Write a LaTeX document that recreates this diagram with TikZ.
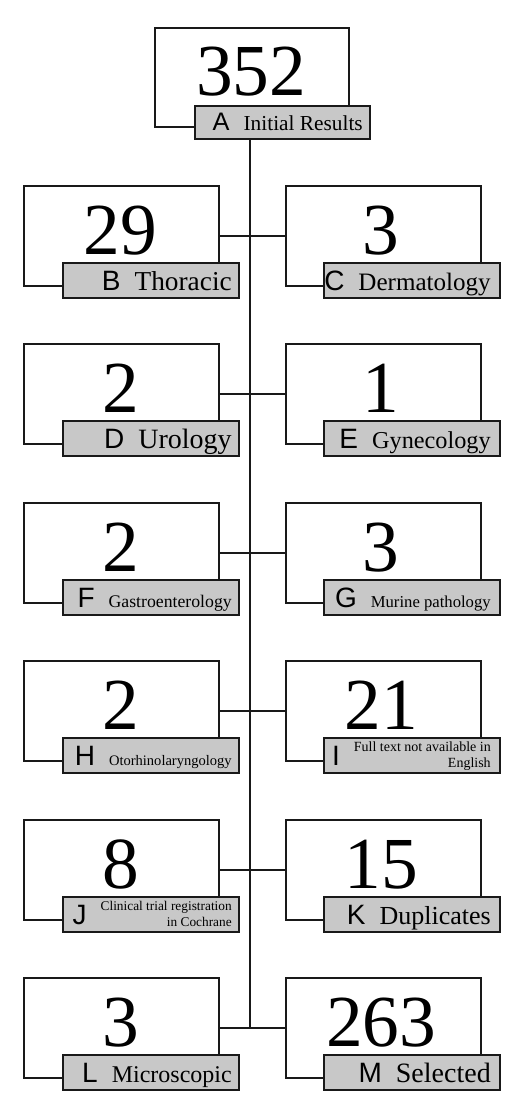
\documentclass[tikz,border=0pt]{standalone}
\usepackage{fontspec}
\setmainfont{Liberation Serif}
\newfontfamily\lsans{Liberation Sans}
\definecolor{labgray}{RGB}{200,200,200}
\definecolor{ink}{RGB}{25,25,25}
\newcommand\lett[2][21]{{\lsans\fontsize{#1}{#1}\selectfont #2}\hspace{10.5pt}}
\newcommand\txt[2]{{\fontsize{#1}{#1}\selectfont #2}}
\newcommand\twol[3]{\raisebox{-1.5pt}{\fontsize{#1}{12}\selectfont\begin{tabular}[b]{@{}r@{}}#2\\#3\end{tabular}}}
\begin{document}
\begin{tikzpicture}[x=0.75pt,y=-0.75pt,
  wbox/.style={draw=ink, line width=1.8pt, fill=white, minimum width=146.25pt, minimum height=75pt, anchor=north west, inner sep=0pt},
  lbox/.style={draw=ink, line width=1.8pt, fill=labgray, minimum width=132pt, minimum height=26.25pt, anchor=north west, inner sep=0pt},
  num/.style={anchor=base, inner sep=0pt, text depth=0pt, font=\fontsize{55}{55}\selectfont},
  ltxt/.style={anchor=base east, inner sep=0pt},
  conn/.style={draw=ink, line width=1.8pt}]
\useasboundingbox (0,0) rectangle (524,1113);
% A
\node[wbox, minimum width=145.5pt, minimum height=74.25pt] (Ab) at (154,27) {};
\node[lbox, minimum width=131.25pt, minimum height=24.75pt] (Al) at (194,105) {};
\node[num] (An) at (251,95) {352};
\node[ltxt] (At) at (363,130) {\lett[19]{A}\txt{16}{Initial Results}};
% row 0
\node[wbox] (Bb) at (23,185) {};
\node[lbox] (Bl) at (62,262) {};
\node[num] (Bn) at (120.5,254) {29};
\node[ltxt] (Bt) at (232,290) {\lett{B}\txt{20.5}{Thoracic}};
\node[wbox] (Cb) at (285,185) {};
\node[lbox] (Cl) at (323,262) {};
\node[num] (Cn) at (381,254) {3};
\node[ltxt] (Ct) at (491,290) {\lett{C}\txt{18.8}{Dermatology}};
% row 1
\node[wbox] (Db) at (23,343) {};
\node[lbox] (Dl) at (62,420) {};
\node[num] (Dn) at (120.5,412) {2};
\node[ltxt] (Dt) at (232,448) {\lett{D}\txt{21}{Urology}};
\node[wbox] (Eb) at (285,343) {};
\node[lbox] (El) at (323,420) {};
\node[num] (En) at (381,412) {1};
\node[ltxt] (Et) at (491,448) {\lett{E}\txt{18.2}{Gynecology}};
% row 2
\node[wbox] (Fb) at (23,502) {};
\node[lbox] (Fl) at (62,579) {};
\node[num] (Fn) at (120.5,571) {2};
\node[ltxt] (Ft) at (232,607) {\lett{F}\txt{13.3}{Gastroenterology}};
\node[wbox] (Gb) at (285,502) {};
\node[lbox] (Gl) at (323,579) {};
\node[num] (Gn) at (381,571) {3};
\node[ltxt] (Gt) at (491,607) {\lett{G}\txt{12.5}{Murine pathology}};
% row 3
\node[wbox] (Hb) at (23,660) {};
\node[lbox] (Hl) at (62,737) {};
\node[num] (Hn) at (120.5,729) {2};
\node[ltxt] (Ht) at (232,765) {\lett{H}\txt{10.9}{Otorhinolaryngology}};
\node[wbox] (Ib) at (285,660) {};
\node[lbox] (Il) at (323,737) {};
\node[num] (In) at (381,729) {21};
\node[ltxt] (It) at (491,765) {\lett{I}\twol{10.5}{Full text not available in}{English}};
% row 4
\node[wbox] (Jb) at (23,819) {};
\node[lbox] (Jl) at (62,896) {};
\node[num] (Jn) at (120.5,888) {8};
\node[ltxt] (Jt) at (232,924) {\lett{J}\twol{10}{Clinical trial registration}{in Cochrane}};
\node[wbox] (Kb) at (285,819) {};
\node[lbox] (Kl) at (323,896) {};
\node[num] (Kn) at (381,888) {15};
\node[ltxt] (Kt) at (491,924) {\lett{K}\txt{19.5}{Duplicates}};
% row 5
\node[wbox] (Lb) at (23,977) {};
\node[lbox] (Ll) at (62,1054) {};
\node[num] (Ln) at (120.5,1046) {3};
\node[ltxt] (Lt) at (232,1082) {\lett{L}\txt{18}{Microscopic}};
\node[wbox] (Mb) at (285,977) {};
\node[lbox] (Ml) at (323,1054) {};
\node[num] (Mn) at (381,1046) {263};
\node[ltxt] (Mt) at (491,1082) {\lett{M}\txt{21}{Selected}};
% connectors
\coordinate (spinetop) at (250,138);
\coordinate (spinebot) at (spinetop |- Lb.east);
\draw[conn] (spinetop) -- (spinebot);
\draw[conn] (Bb.east) -- (Cb.west);
\draw[conn] (Db.east) -- (Eb.west);
\draw[conn] (Fb.east) -- (Gb.west);
\draw[conn] (Hb.east) -- (Ib.west);
\draw[conn] (Jb.east) -- (Kb.west);
\draw[conn] (Lb.east) -- (Mb.west);
\end{tikzpicture}
\end{document}
